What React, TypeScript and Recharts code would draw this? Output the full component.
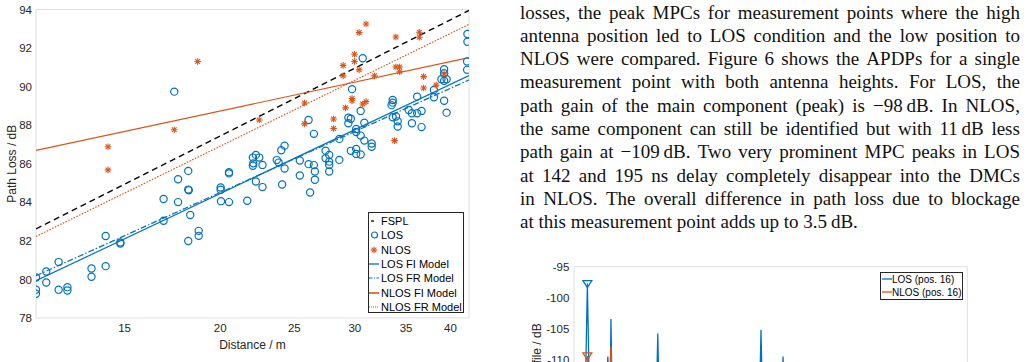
import React from 'react';
import { ComposedChart, Scatter, Line, XAxis, YAxis, CartesianGrid } from 'recharts';

const BLUE = '#0072BD';
const ORANGE = '#D95319';
const AX = '#262626';
const GRID = '#dfdfdf';
const SANS = '"Liberation Sans", Arial, Helvetica, sans-serif';
const SERIF = '"Liberation Serif", "Times New Roman", serif';

// ---- path loss figure: measured points (distance / m, path loss / dB)
const losDist = [
  11.49, 11.49, 11.49, 11.85, 11.85, 12.3, 12.3, 12.63, 12.63, 13.58, 13.58, 14.17, 14.17, 14.81, 14.81,
  16.87, 16.87, 17.42, 17.62, 17.62, 18.17, 18.17, 18.2, 18.28, 18.17, 18.75, 18.75, 20.03, 20.03, 20.05,
  20.54, 20.54, 20.54, 21.7, 22.07, 22.27, 22.5, 22.07, 22.1, 22.72, 22.27, 22.72, 23.72, 23.85, 24.04,
  24.28, 24.28, 24.1, 25.42, 25.42, 26.1, 26.52, 26.1, 26.52, 26.6, 26.6, 26.22, 27.47, 27.47, 27.77,
  27.77, 27.77, 27.77, 28.63, 28.63, 29.42, 29.64, 29.42, 29.64, 29.75, 30.12, 30.12, 30.12, 30.12, 30.53,
  30.53, 30.53, 30.72, 30.87, 30.87, 31.56, 31.56, 33.51, 33.62, 33.62, 33.62, 33.96, 34.13, 34.13, 35.28,
  35.62, 35.62, 36.19, 36.19, 36.67, 36.67, 38.06, 38.06, 38.93, 39.25, 39.25, 39.25, 39.54, 39.25, 39.54,
  42.06, 42.06, 42.1, 42.1,
];
const losPl = [
  80.1, 79.47, 79.26, 80.41, 79.84, 80.9, 79.47, 79.6, 79.43, 80.57, 80.14, 82.25, 80.69, 81.92, 81.86,
  84.17, 83.04, 89.74, 85.2, 84.01, 85.63, 84.66, 84.62, 83.34, 81.99, 82.52, 82.26, 84.77, 84.65, 84.06,
  85.56, 85.5, 84.01, 84.08, 86.32, 86.46, 86.32, 85.9, 86.02, 85.94, 85.08, 84.79, 86.19, 86.06, 86.7,
  86.94, 85.75, 84.92, 86.17, 85.39, 88.27, 87.55, 85.98, 85.93, 85.6, 85.17, 84.51, 86.68, 86.29, 86.45,
  86.11, 85.94, 85.6, 87.29, 86.2, 88.39, 88.33, 88.1, 86.67, 89.87, 86.77, 86.51, 87.8, 87.65, 86.48,
  88.74, 87.46, 91.47, 88.13, 87.2, 87.05, 86.88, 89.04, 89.31, 89.17, 88.41, 88.45, 88.2, 87.93, 88.79,
  88.62, 88.1, 89.48, 88.62, 88.74, 87.9, 89.83, 89.45, 90.38, 90.9, 90.69, 90.3, 90.38, 89.27, 88.65,
  91.3, 90.87, 92.73, 92.33,
];
const nlosDist = [
  14.27, 14.27, 17.42, 18.69, 22.5, 25.79, 25.79, 28.14, 28.14, 28.96, 28.96, 29.17, 29.75, 29.75, 29.97,
  29.97, 30.39, 30.39, 30.72, 31.03, 31.03, 31.83, 33.94, 33.94, 34.33, 34.33, 36.43, 36.43, 36.9, 36.9,
  38.32, 39.25, 33.81,
];
const nlosPl = [
  86.88, 85.68, 87.76, 91.3, 88.27, 89.15, 88.07, 88.32, 87.83, 91.1, 90.56, 88.9, 89.38, 89.27, 91.68,
  91.3, 92.8, 90.87, 89.1, 93.25, 89.22, 90.56, 92.57, 91.02, 91.02, 90.77, 92.82, 92.56, 90.52, 89.93,
  90.08, 90.66, 87.2,
];

// fitted models, read at both ends of the distance range
const modelDist = [11.49, 42.3];
const fsplPl = [82.62, 93.95];
const losFiPl = [79.93, 90.57];
const losFrPl = [80.19, 90.35];
const nlosFiPl = [86.69, 91.5];
const nlosFrPl = [82.23, 93.23];

const distDomain = [11.49, 42.3];
const distTicks = [15, 20, 25, 30, 35, 40];
const distMinorTicks = [
  11.5, 12, 12.5, 13, 13.5, 14, 14.5, 15, 15.5, 16, 16.5, 17, 17.5, 18, 18.5, 19, 19.5, 20, 20.5, 21, 21.5,
  22, 22.5, 23, 23.5, 24, 24.5, 25, 25.5, 26, 26.5, 27, 27.5, 28, 28.5, 29, 29.5, 30, 30.5, 31, 31.5, 32,
  32.5, 33, 33.5, 34, 34.5, 35, 35.5, 36, 36.5, 37, 37.5, 38, 38.5, 39, 39.5, 40, 40.5, 41, 41.5, 42,
];
const plTicks = [78, 80, 82, 84, 86, 88, 90, 92, 94];

// ---- APDP figure (delay / ns, power / dB), only the top part is visible
const losDelay = [80, 84, 85.6, 86.8, 87.9, 92, 96.6, 97.2, 97.8, 98.3, 98.8, 99.4, 104, 121.8, 122.6, 123.4, 140, 174.3, 175.1, 175.9, 185.7, 186.3, 186.9, 210, 280];
const losPower = [-121, -119, -118, -97.7, -117, -118, -115, -109.4, -114, -116, -103.4, -116, -120, -118, -105.7, -118, -121, -117, -105.1, -118, -116, -109.4, -117, -122, -126];
const nlosDelay = [80, 85.6, 86.8, 87.9, 97.6, 98.8, 99.8, 120, 280];
const nlosPower = [-124, -121, -109.3, -120, -119, -107.8, -119, -122, -128];
const losPeakDelay = [86.8];
const losPeakPower = [-97.7];
const nlosPeakDelay = [86.8];
const nlosPeakPower = [-109.3];
const delayTicks = [80, 100, 120, 140, 160, 180, 200, 220, 240, 260, 280];
const powerTicks = [-110, -105, -100, -95];

const textLines = [
  'losses, the peak MPCs for measurement points where the high',
  'antenna position led to LOS condition and the low position to',
  'NLOS were compared. Figure 6 shows the APDPs for a single',
  'measurement point with both antenna heights. For LOS, the',
  'path gain of the main component (peak) is \u221298\u2009dB. In NLOS,',
  'the same component can still be identified but with 11\u2009dB less',
  'path gain at \u2212109\u2009dB. Two very prominent MPC peaks in LOS',
  'at 142 and 195 ns delay completely disappear into the DMCs',
  'in NLOS. The overall difference in path loss due to blockage',
  'at this measurement point adds up to 3.5\u2009dB.',
];

const pairs = (xs: number[], ys: number[]) => xs.map((d, i) => ({ d, pl: ys[i] }));
const apdp = (xs: number[], ys: number[]) => xs.map((t, i) => ({ t, p: ys[i] }));

const Circle = (props: any) => (
  <circle cx={props.cx} cy={props.cy} r={3.6} fill="none" stroke={BLUE} strokeWidth={1.2} />
);

const Star = (props: any) => {
  const { cx, cy } = props;
  const r = 3.3;
  const k = r * 0.72;
  return (
    <g stroke={ORANGE} strokeWidth={1.1}>
      <line x1={cx - r} y1={cy} x2={cx + r} y2={cy} />
      <line x1={cx} y1={cy - r} x2={cx} y2={cy + r} />
      <line x1={cx - k} y1={cy - k} x2={cx + k} y2={cy + k} />
      <line x1={cx - k} y1={cy + k} x2={cx + k} y2={cy - k} />
    </g>
  );
};

const triangle = (color: string) => (props: any) => {
  const { cx, cy } = props;
  return (
    <polygon
      points={`${cx - 4.5},${cy - 3} ${cx + 4.5},${cy - 3} ${cx},${cy + 4}`}
      fill="none"
      stroke={color}
      strokeWidth={1.2}
    />
  );
};

const legendItems = [
  { name: 'FSPL', icon: 'fspl' },
  { name: 'LOS', icon: 'circle' },
  { name: 'NLOS', icon: 'star' },
  { name: 'LOS FI Model', icon: 'losfi' },
  { name: 'LOS FR Model', icon: 'losfr' },
  { name: 'NLOS FI Model', icon: 'nlosfi' },
  { name: 'NLOS FR Model', icon: 'nlosfr' },
];

function LegendIcon({ icon }: { icon: string }) {
  return (
    <svg width={12} height={14} style={{ display: 'block', flex: 'none' }}>
      {icon === 'fspl' && <line x1={2} y1={7} x2={5} y2={7} stroke="#000" strokeWidth={1.3} />}
      {icon === 'circle' && <circle cx={5.5} cy={7} r={3} fill="none" stroke={BLUE} strokeWidth={1.2} />}
      {icon === 'star' && <Star cx={5} cy={7} />}
      {icon === 'losfi' && <line x1={0} y1={7} x2={10} y2={7} stroke={BLUE} strokeWidth={1.3} />}
      {icon === 'losfr' && <line x1={0} y1={7} x2={10} y2={7} stroke={BLUE} strokeWidth={1.2} strokeDasharray="3.5 1.5 1 1.5" />}
      {icon === 'nlosfi' && <line x1={0} y1={7} x2={10} y2={7} stroke={ORANGE} strokeWidth={1.6} />}
      {icon === 'nlosfr' && <line x1={0} y1={7} x2={10} y2={7} stroke={ORANGE} strokeWidth={1.2} strokeDasharray="1 1" />}
    </svg>
  );
}

function PathLossChart() {
  const tickStyle = { fill: AX, fontSize: 11.5, fontFamily: SANS };
  const logAxis = { dataKey: 'd', type: 'number' as const, scale: 'log' as const, domain: distDomain, allowDataOverflow: true, interval: 0 as const };
  return (
    <div style={{ position: 'absolute', left: 0, top: 0 }}>
      <ComposedChart width={480} height={362} margin={{ top: 9.5, right: 11, bottom: 0, left: 6 }}>
        <CartesianGrid stroke={GRID} strokeWidth={1} />
        <XAxis xAxisId={0} {...logAxis} ticks={distTicks} tick={false} tickSize={-5} height={0}
          tickLine={{ stroke: AX }} axisLine={{ stroke: AX, strokeWidth: 1.2 }} />
        <XAxis xAxisId="xminor" {...logAxis} ticks={distMinorTicks} tick={false} tickSize={-3} height={0}
          tickLine={{ stroke: AX }} axisLine={false} />
        <XAxis xAxisId="xlabel" {...logAxis} ticks={distTicks} tick={tickStyle} tickLine={false} tickSize={0}
          tickMargin={6} axisLine={false} height={44}
          label={{ value: 'Distance / m', position: 'center', dy: 5, fill: AX, fontSize: 12, fontFamily: SANS }} />
        <XAxis xAxisId="top" orientation="top" {...logAxis} ticks={distTicks} tick={false} tickSize={-5} height={0}
          tickLine={{ stroke: AX }} axisLine={{ stroke: AX, strokeWidth: 1.2 }} />
        <XAxis xAxisId="topminor" orientation="top" {...logAxis} ticks={distMinorTicks} tick={false} tickSize={-3}
          height={0} tickLine={{ stroke: AX }} axisLine={false} />
        <YAxis yAxisId={0} type="number" domain={[78, 94]} allowDataOverflow ticks={plTicks} interval={0}
          tick={false} tickSize={-5} width={0} tickLine={{ stroke: AX }} axisLine={{ stroke: AX, strokeWidth: 1.2 }} />
        <YAxis yAxisId="ylabel" type="number" domain={[78, 94]} allowDataOverflow ticks={plTicks} interval={0}
          tick={tickStyle} tickLine={false} tickSize={0} tickMargin={4} axisLine={false} width={30}
          label={{ value: 'Path Loss / dB', angle: -90, position: 'center', dx: -9, fill: AX, fontSize: 12, fontFamily: SANS }} />
        <YAxis yAxisId="right" orientation="right" type="number" domain={[78, 94]} allowDataOverflow ticks={plTicks}
          interval={0} tick={false} tickSize={-5} width={0} tickLine={{ stroke: AX }} axisLine={{ stroke: AX, strokeWidth: 1.2 }} />

        {/* every distance axis shares the same fixed domain, so each series can sit on any of them */}
        <Line xAxisId="xminor" data={pairs(modelDist, fsplPl)} dataKey="pl" stroke="#000" strokeWidth={1.4} strokeDasharray="6 4"
          dot={false} activeDot={false} isAnimationActive={false} />
        <Scatter xAxisId={0} data={pairs(losDist, losPl)} dataKey="pl" shape={Circle} isAnimationActive={false} />
        <Scatter xAxisId="xlabel" data={pairs(nlosDist, nlosPl)} dataKey="pl" shape={Star} isAnimationActive={false} />
        <Line xAxisId="top" data={pairs(modelDist, losFiPl)} dataKey="pl" stroke={BLUE} strokeWidth={1.2}
          dot={false} activeDot={false} isAnimationActive={false} />
        <Line xAxisId="topminor" data={pairs(modelDist, losFrPl)} dataKey="pl" stroke={BLUE} strokeWidth={1.2} strokeDasharray="6 2 1.5 2"
          dot={false} activeDot={false} isAnimationActive={false} />
        <Line xAxisId={0} data={pairs(modelDist, nlosFiPl)} dataKey="pl" stroke={ORANGE} strokeWidth={1.2}
          dot={false} activeDot={false} isAnimationActive={false} />
        <Line xAxisId={0} data={pairs(modelDist, nlosFrPl)} dataKey="pl" stroke={ORANGE} strokeWidth={1.2} strokeDasharray="1.5 1.5"
          dot={false} activeDot={false} isAnimationActive={false} />
      </ComposedChart>
      <div style={{
        position: 'absolute', left: 368, top: 212, width: 96, height: 101, boxSizing: 'border-box',
        border: `1px solid ${AX}`, background: '#fff', paddingTop: 1, fontFamily: SANS, fontSize: 11, color: '#000',
      }}>
        {legendItems.map((it) => (
          <div key={it.name} style={{ display: 'flex', alignItems: 'center', height: 14.3, whiteSpace: 'nowrap' }}>
            <LegendIcon icon={it.icon} />
            <span>{it.name}</span>
          </div>
        ))}
      </div>
    </div>
  );
}

function ApdpChart() {
  const tickStyle = { fill: AX, fontSize: 11.5, fontFamily: SANS };
  const xProps = { dataKey: 't', type: 'number' as const, domain: [80, 280], allowDataOverflow: true, ticks: delayTicks, interval: 0 as const };
  const yProps = { type: 'number' as const, domain: [-134, -95], allowDataOverflow: true, ticks: powerTicks, interval: 0 as const };
  return (
    <div style={{ position: 'absolute', left: 480, top: 240 }}>
      <ComposedChart width={547} height={270} margin={{ top: 26.7, right: 59.7, bottom: 0, left: 4 }}>
        <CartesianGrid stroke={GRID} strokeWidth={1} />
        <XAxis xAxisId={0} {...xProps} tick={false} tickSize={-5} height={0}
          tickLine={{ stroke: AX }} axisLine={{ stroke: AX, strokeWidth: 1.2 }} />
        <XAxis xAxisId="top" orientation="top" {...xProps} tick={false} tickSize={-5} height={0}
          tickLine={{ stroke: AX }} axisLine={{ stroke: AX, strokeWidth: 1.2 }} />
        <YAxis yAxisId={0} {...yProps} tick={false} tickSize={-5} width={0}
          tickLine={{ stroke: AX }} axisLine={{ stroke: AX, strokeWidth: 1.2 }} />
        <YAxis yAxisId="ylabel" {...yProps} tick={tickStyle} tickLine={false} tickSize={0} tickMargin={4.7}
          axisLine={false} width={90}
          label={{ value: 'Power Delay Profile / dB', angle: -90, position: 'center', dx: 8, fill: AX, fontSize: 12, fontFamily: SANS }} />
        <YAxis yAxisId="right" orientation="right" {...yProps} tick={false} tickSize={-5} width={0}
          tickLine={{ stroke: AX }} axisLine={{ stroke: AX, strokeWidth: 1.2 }} />
        <Line xAxisId={0} data={apdp(losDelay, losPower)} dataKey="p" stroke={BLUE} strokeWidth={1.3}
          dot={false} activeDot={false} isAnimationActive={false} />
        <Line xAxisId="top" data={apdp(nlosDelay, nlosPower)} dataKey="p" stroke={ORANGE} strokeWidth={1.3}
          dot={false} activeDot={false} isAnimationActive={false} />
        <Scatter xAxisId="top" data={apdp(losPeakDelay, losPeakPower)} dataKey="p" shape={triangle(BLUE)} isAnimationActive={false} />
        <Scatter xAxisId={0} data={apdp(nlosPeakDelay, nlosPeakPower)} dataKey="p" shape={triangle(ORANGE)} isAnimationActive={false} />
      </ComposedChart>
      <div style={{
        position: 'absolute', left: 400, top: 31.7, width: 83, height: 28.5, boxSizing: 'border-box',
        border: `1px solid ${AX}`, background: '#fff', fontFamily: SANS, fontSize: 10, color: '#000',
      }}>
        {[{ name: 'LOS (pos. 16)', color: BLUE }, { name: 'NLOS (pos. 16)', color: ORANGE }].map((it) => (
          <div key={it.name} style={{ display: 'flex', alignItems: 'center', height: 13.2, whiteSpace: 'nowrap' }}>
            <svg width={11} height={12} style={{ display: 'block', flex: 'none' }}>
              <line x1={1} y1={6} x2={11} y2={6} stroke={it.color} strokeWidth={1.3} />
            </svg>
            <span>{it.name}</span>
          </div>
        ))}
      </div>
    </div>
  );
}

export default function App() {
  return (
    <div style={{ position: 'relative', width: 1027, height: 362, overflow: 'hidden', background: '#fff' }}>
      <style>{'body{margin:0}'}</style>
      <PathLossChart />
      <div style={{
        position: 'absolute', left: 520, top: 0.5, width: 500, fontFamily: SERIF, fontSize: 19,
        lineHeight: '23.3px', color: '#111',
      }}>
        {textLines.map((l, i) =>
          i === textLines.length - 1 ? (
            <div key={i} style={{ whiteSpace: 'nowrap' }}>{l}</div>
          ) : (
            // justified line: words spread evenly over the column width
            <div key={i} style={{ display: 'flex', justifyContent: 'space-between', height: 23.3 }}>
              {l.split(' ').map((w, j) => <span key={j}>{w}</span>)}
            </div>
          ),
        )}
      </div>
      <ApdpChart />
    </div>
  );
}
